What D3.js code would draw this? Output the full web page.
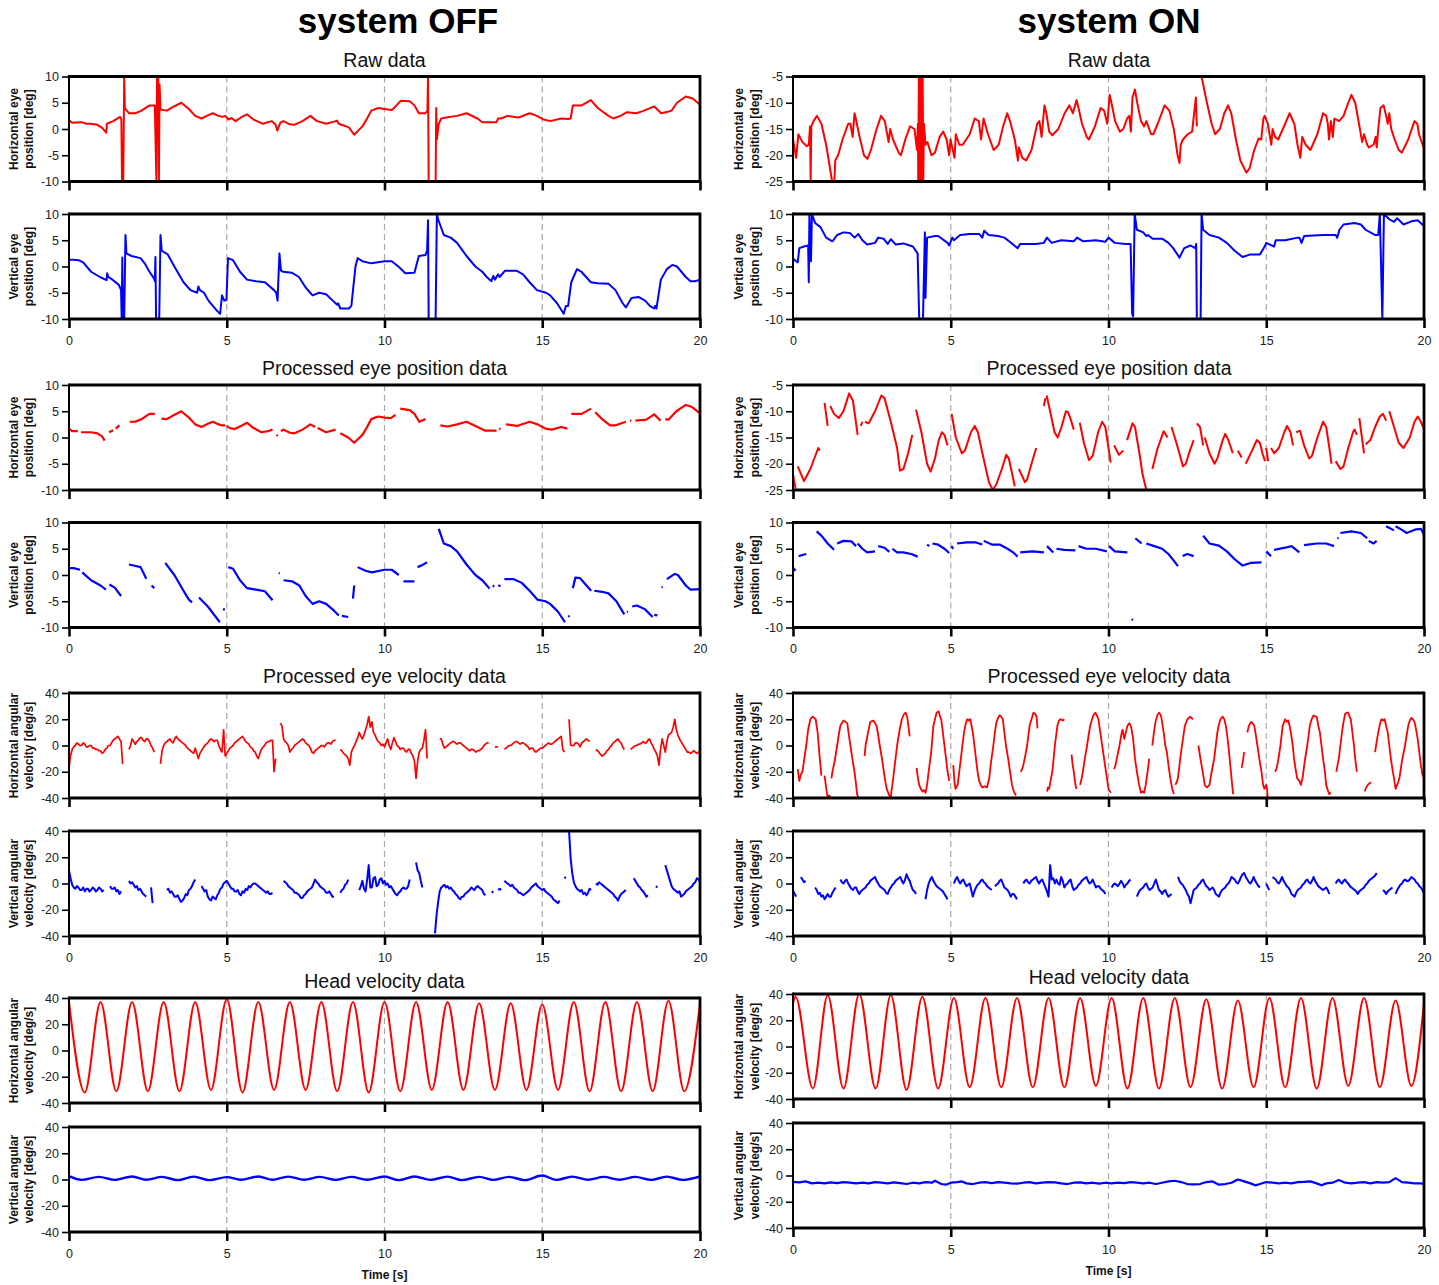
<!DOCTYPE html>
<html><head><meta charset="utf-8">
<script src="https://cdn.jsdelivr.net/npm/d3@7/dist/d3.min.js"></script>
<style>
html,body{margin:0;padding:0;background:#fff;}
svg{display:block;font-family:"Liberation Sans",Arial,sans-serif;}
</style></head>
<body>
<svg id="chart" width="1439" height="1285"></svg>
<script>
// ---------------- DATA ----------------
const columnTitles = ["system OFF", "system ON"];
const sectionTitles = ["Raw data", "Processed eye position data", "Processed eye velocity data", "Head velocity data"];
const timeTicks = [0, 5, 10, 15, 20];
const gridTimes = [5, 10, 15];
const posTicks = [-10, -5, 0, 5, 10];
const onPosHTicks = [-25, -20, -15, -10, -5];
const velTicks = [-40, -20, 0, 20, 40];
const velStep = 0.05; // sampling step (s) of the uniformly sampled velocity series

// system OFF – raw eye position
const offRawH = [[0,1.7],[0.1,1.2],[0.4,1.3],[0.55,1.0],[0.7,1.0],[0.9,0.8],[1.05,0.2],[1.18,-0.7],[1.2,1.0],[1.4,1.5],[1.62,2.3],[1.66,1.8],[1.68,-10],[1.72,-10],[1.75,10],[1.77,4],[1.8,3.8],[1.9,3],[2.1,3],[2.3,3.5],[2.55,4.5],[2.72,4.5],[2.77,-10],[2.79,10],[2.81,4],[2.83,10],[2.85,-10],[2.87,8.5],[2.9,3.7],[3.1,3.5],[3.3,4.2],[3.56,5],[3.8,3.8],[4.0,2.5],[4.2,2],[4.4,2.6],[4.56,3],[4.7,2.6],[4.85,2.3],[4.95,2.5],[5.06,1.8],[5.15,2.1],[5.28,1.5],[5.45,2.2],[5.64,2.8],[5.85,1.8],[6.14,1],[6.43,1.5],[6.55,0.8],[6.6,-0.3],[6.7,1.2],[6.8,1.5],[7.0,0.9],[7.14,0.8],[7.4,1.5],[7.65,2.5],[7.86,1.5],[8.15,1],[8.4,1.4],[8.5,1.6],[8.55,1.0],[8.87,0.3],[9.04,-1.1],[9.3,0.5],[9.45,2],[9.58,3.5],[9.8,4],[10.0,3.8],[10.23,3.6],[10.35,4.3],[10.52,5.4],[10.8,5.3],[10.95,4.5],[11.09,3.0],[11.3,3],[11.36,3.5],[11.38,10],[11.4,-10],[11.62,-10],[11.64,4],[11.66,-2],[11.72,1],[11.8,2],[11.95,2.2],[12.3,2.5],[12.6,3],[12.95,2],[13.1,1.3],[13.55,1.3],[13.6,2],[13.69,2],[13.9,2.5],[14.25,2.2],[14.6,3],[14.83,2.5],[15.05,1.8],[15.25,1.5],[15.6,2],[15.82,1.9],[15.9,2],[15.97,4.5],[16.25,4.5],[16.54,5.5],[16.76,4],[17.1,2.5],[17.25,2.0],[17.48,2.5],[17.69,3.2],[17.98,3.0],[18.19,3.4],[18.55,4.3],[18.77,3],[18.98,3.3],[19.1,3.5],[19.27,5],[19.55,6.2],[19.77,5.8],[20,4.6]];
const offRawV = [[0,1.3],[0.15,1.3],[0.3,1.2],[0.45,0.8],[0.7,-1],[0.98,-2],[1.19,-2.6],[1.21,-1.3],[1.25,-2],[1.33,-2.3],[1.58,-3.5],[1.65,-4.5],[1.67,-10],[1.69,1.7],[1.71,-10],[1.75,-10],[1.79,6],[1.82,2.5],[1.98,2],[2.27,1.6],[2.41,0.5],[2.55,-1],[2.7,-2.3],[2.72,-2.8],[2.74,1.8],[2.76,-10],[2.86,-10],[2.9,6],[2.94,3],[3.13,2.3],[3.34,0],[3.63,-3],[3.85,-4.5],[4.06,-5],[4.1,-3.8],[4.15,-4.5],[4.28,-5],[4.42,-6.5],[4.7,-8.5],[4.79,-9],[4.85,-5.5],[4.92,-6.5],[4.99,-6.4],[5.04,1.6],[5.2,1.2],[5.42,-1],[5.64,-2.5],[5.93,-2.8],[6.21,-3],[6.5,-4.5],[6.57,-5],[6.61,-6.5],[6.67,2.5],[6.72,-0.8],[6.79,-1],[7.07,-1.2],[7.29,-2],[7.5,-4],[7.72,-5.5],[7.93,-5],[8.15,-5.3],[8.36,-6.5],[8.5,-7.3],[8.53,-7],[8.6,-8],[8.87,-8],[8.95,-7.5],[9.08,0],[9.15,1.6],[9.3,1],[9.58,0.6],[10.0,1],[10.23,1],[10.44,0],[10.66,-1.3],[10.95,-1.2],[11.0,0],[11.09,2],[11.3,2.2],[11.35,3],[11.38,8.8],[11.4,-10],[11.62,-10],[11.66,10],[11.7,9],[11.88,6],[12.1,5.5],[12.3,4.5],[12.6,2],[12.88,0],[13.1,-1],[13.24,-2],[13.39,-2.8],[13.45,-1.8],[13.5,-2.5],[13.6,-1.5],[13.65,-2],[13.82,-0.8],[14.18,-0.8],[14.39,-1.5],[14.6,-3],[14.83,-4.5],[15.12,-5],[15.25,-5.5],[15.47,-7],[15.68,-9],[15.75,-7.5],[15.82,-7.5],[15.92,-3],[16.1,-0.5],[16.24,-1],[16.54,-3],[16.76,-3.2],[17.1,-3.3],[17.32,-4.5],[17.55,-7],[17.65,-7.8],[17.83,-6],[18.05,-5.8],[18.26,-6.5],[18.41,-7.5],[18.55,-8],[18.58,-7.5],[18.62,-8],[18.76,-2.5],[18.95,-0.5],[19.12,0.3],[19.27,0],[19.55,-2],[19.7,-2.8],[19.85,-2.8],[20,-2.5]];

// system ON – raw eye position
const onRawH = [[0,-17],[0.1,-20.5],[0.17,-16],[0.3,-17.5],[0.44,-18.3],[0.5,-18],[0.54,-14.5],[0.56,-25],[0.58,-14.5],[0.65,-13.5],[0.76,-12.5],[0.9,-14],[1.05,-18],[1.16,-22],[1.24,-25],[1.31,-25],[1.34,-21],[1.43,-20],[1.57,-17],[1.75,-14],[1.82,-14],[1.89,-16.5],[1.95,-12],[1.99,-13],[2.11,-16.5],[2.25,-20],[2.36,-20.7],[2.47,-19],[2.65,-15],[2.79,-12.5],[2.91,-13.5],[3.03,-17.5],[3.08,-15],[3.17,-17],[3.35,-19.5],[3.42,-20],[3.56,-17],[3.71,-14.5],[3.85,-15],[3.93,-19],[3.96,-14],[3.97,-25],[3.99,-5],[4.01,-25],[4.03,-5],[4.05,-25],[4.07,-5],[4.09,-25],[4.11,-5],[4.13,-25],[4.15,-14],[4.2,-18],[4.26,-17.5],[4.39,-20],[4.5,-19.5],[4.65,-16.5],[4.76,-15.5],[4.87,-17],[4.95,-20],[4.99,-17],[5.12,-20.5],[5.16,-16],[5.27,-18],[5.38,-18],[5.6,-16],[5.76,-13],[5.89,-13.5],[5.96,-17],[6.04,-13],[6.18,-16],[6.36,-19],[6.52,-18],[6.66,-14.5],[6.79,-12],[6.88,-13.5],[7.03,-17],[7.13,-21],[7.16,-18.5],[7.27,-20.5],[7.39,-21],[7.56,-19],[7.74,-14],[7.81,-13.5],[7.88,-16.5],[7.97,-10.5],[8.03,-12],[8.12,-15.5],[8.22,-16.2],[8.41,-15],[8.61,-12],[8.76,-10.5],[8.87,-12],[8.99,-9.5],[9.05,-11],[9.16,-14],[9.31,-16.5],[9.38,-17],[9.57,-14.5],[9.75,-11],[9.86,-11.5],[9.96,-14],[10.04,-8.5],[10.11,-10.5],[10.21,-13.5],[10.36,-15.5],[10.47,-15],[10.59,-13],[10.66,-12.5],[10.71,-15.5],[10.76,-9],[10.84,-7.5],[10.91,-10],[11.03,-13.5],[11.13,-14.5],[11.2,-13.5],[11.35,-16],[11.42,-16],[11.56,-14],[11.78,-10.5],[11.93,-11.5],[12.07,-15],[12.19,-20],[12.25,-21.5],[12.29,-18],[12.36,-17],[12.51,-16],[12.65,-15.5],[12.77,-9],[12.8,-14.5],null,[12.95,-5],[13.12,-10],[13.27,-14],[13.38,-16],[13.53,-15],[13.67,-12],[13.79,-10.5],[13.89,-12],[14.04,-17],[14.18,-21],[14.37,-23.3],[14.47,-22.5],[14.62,-19],[14.76,-16.8],[14.84,-17],[14.91,-13],[14.95,-12.5],[15.05,-14],[15.16,-18],[15.2,-15],[15.28,-16.5],[15.38,-17],[15.6,-14],[15.74,-12],[15.89,-14],[15.99,-18],[16.08,-20.5],[16.14,-16.5],[16.25,-18],[16.4,-19],[16.62,-16],[16.8,-12],[16.9,-12.5],[16.95,-14],[16.99,-17],[17.05,-13.5],[17.11,-16.5],[17.16,-13],[17.31,-13.5],[17.45,-12.5],[17.6,-10],[17.7,-8.5],[17.82,-10],[17.94,-14],[18.04,-17.5],[18.1,-16],[18.2,-18],[18.25,-18.5],[18.4,-18],[18.47,-16.5],[18.5,-18.5],[18.55,-15],[18.62,-11],[18.72,-10.5],[18.8,-12.5],[18.85,-14],[18.9,-12],[18.96,-15],[19.07,-17],[19.2,-19],[19.3,-19.5],[19.5,-17],[19.64,-14.5],[19.7,-13.5],[19.79,-14],[19.84,-16],[20,-18.7]];
const onRawV = [[0,1.5],[0.1,1],[0.15,0.8],[0.2,3.5],[0.35,3.8],[0.48,4],[0.5,-3],[0.52,10],[0.57,1],[0.6,10],[0.7,8.3],[0.87,7.5],[1.05,5.5],[1.25,4.8],[1.4,6],[1.6,6.5],[1.8,6.4],[1.95,5.5],[2.07,6.2],[2.2,5],[2.35,4.2],[2.6,4.5],[2.7,5.5],[2.87,5.3],[3.0,4.3],[3.1,5.2],[3.25,4.2],[3.5,4.4],[3.7,4],[3.8,3.8],[3.95,2.5],[4.0,-10],[4.12,-10],[4.18,6.5],[4.2,-6],[4.25,5.5],[4.5,5.8],[4.6,5.8],[4.9,4.5],[4.95,4],[5.05,5.5],[5.1,5],[5.3,6],[5.6,6.2],[5.9,6.2],[6.0,5.5],[6.06,6.8],[6.2,6],[6.5,5.8],[6.7,5.5],[6.85,4.8],[7.12,3.5],[7.2,4.3],[7.7,4.3],[7.95,4.5],[8.05,5.5],[8.2,4.5],[8.5,5],[8.9,4.8],[9.0,5.5],[9.2,4.8],[9.6,5],[9.9,4.7],[10.0,5.5],[10.2,4.5],[10.55,4.3],[10.7,4.3],[10.75,-9],[10.78,-9.5],[10.83,10],[10.9,7],[11.1,6.5],[11.2,5.8],[11.25,6],[11.4,5.3],[11.7,5.3],[11.9,4.5],[12.05,3.5],[12.25,1.7],[12.4,3.5],[12.6,4],[12.75,3.5],[12.78,4.3],[12.8,-10],[12.92,-10],[12.95,10],[13.0,7],[13.2,6],[13.5,5.5],[13.75,4.5],[14.0,3],[14.25,1.8],[14.5,2.3],[14.8,2.3],[14.95,3.8],[15.0,4.5],[15.25,3.8],[15.3,5],[15.6,5],[16.0,5.5],[16.05,5.5],[16.12,4.5],[16.2,5.8],[16.8,6],[17.2,6],[17.25,5.5],[17.32,7],[17.45,8],[17.8,8.3],[18.0,8],[18.15,7],[18.3,6.5],[18.45,6],[18.55,6],[18.6,10],[18.68,-10],[18.73,10],[18.9,9],[19.05,8.5],[19.15,9.2],[19.35,8],[19.6,8.6],[19.8,8.8],[20,7.7]];

// system OFF – processed eye position (null = removed samples)
const offProcH = [[0,1.7],[0.1,1.2],[0.28,1.2],null,[0.38,1.0],[0.55,1.0],[0.7,1.0],[0.9,0.8],[1.05,0.2],[1.13,-0.6],null,[1.27,1.0],[1.4,1.4],null,[1.48,1.7],[1.6,2.3],null,[1.93,3],[2.1,3],[2.3,3.5],[2.55,4.5],[2.72,4.5],null,[2.93,3.6],[3.1,3.5],[3.3,4.2],[3.56,5],[3.8,3.8],[4.0,2.5],[4.2,2],[4.4,2.6],[4.56,3],[4.7,2.6],[4.85,2.3],[4.95,2.3],null,[5.0,2.2],[5.1,1.8],[5.25,1.6],[5.45,2.2],[5.65,2.8],[5.85,1.8],[6.1,1],[6.3,1.2],[6.45,1.5],null,[6.58,0.5],[6.62,0.3],null,[6.72,1.2],[6.8,1.5],[7.0,0.9],[7.15,0.8],[7.4,1.5],[7.65,2.5],[7.8,2],null,[7.88,1.8],[8.15,1],[8.45,1.5],null,[8.6,0.8],[8.85,0],[9.04,-1],[9.3,0.5],[9.45,2],[9.58,3.5],[9.8,4],[10.0,3.8],[10.2,3.7],[10.35,4.3],null,[10.5,5.5],[10.8,5.2],[10.95,4.5],[11.1,3],[11.3,3.5],null,[11.77,2.3],[12.0,2.1],[12.3,2.5],[12.6,3],[12.95,2],[13.2,1.3],[13.55,1.3],null,[13.63,1.6],[13.68,1.7],null,[13.85,2.5],[14.2,2.2],[14.6,3],[14.85,2.5],[15.1,1.7],[15.3,1.5],[15.6,2],[15.8,1.7],null,[15.92,4.5],[16.25,4.5],[16.55,5.5],null,[16.68,4.8],[16.9,3.5],[17.15,2.3],[17.3,2.3],[17.65,3],null,[17.78,3.2],[17.82,3.2],null,[17.95,3.2],[18.3,3.4],[18.55,4.4],[18.75,3.2],null,[18.9,3.5],[19.0,3.4],[19.25,5],[19.55,6.2],[19.75,5.8],[20,4.6]];
const offProcV = [[0,1.3],[0.15,1.3],[0.35,1.0],null,[0.42,0.5],[0.7,-1],[1.0,-2],[1.17,-2.8],null,[1.28,-1.8],[1.45,-2.4],[1.65,-4],null,[1.9,2],[2.05,1.8],[2.27,1.5],[2.45,-0.7],null,[2.62,-2],[2.7,-2.5],null,[3.05,2.3],[3.34,0],[3.63,-3],[3.8,-4.7],[3.9,-5.2],null,[4.12,-4.3],[4.4,-6],[4.78,-9],null,[4.88,-6.5],[4.94,-6.6],null,[5.05,1.5],[5.2,1.2],[5.42,-1],[5.64,-2.5],[5.93,-2.8],[6.21,-3.1],[6.45,-4.8],null,[6.65,0.4],[6.68,0.3],null,[6.8,-1],[7.07,-1.2],[7.3,-2],[7.5,-4],[7.72,-5.5],[7.93,-5],[8.15,-5.5],[8.4,-6.8],[8.55,-7.7],null,[8.65,-7.8],[8.85,-8],null,[9.0,-4.5],[9.04,-2],null,[9.15,1.5],[9.4,0.8],[9.6,0.5],[10.0,1],[10.23,1],[10.45,0],null,[10.6,-1.2],[10.95,-1.2],null,[11.05,1.5],[11.2,1.9],[11.35,2.4],null,[11.72,8.8],[11.88,6],[12.1,5.5],[12.3,4.5],[12.6,2],[12.88,0],[13.1,-1],[13.33,-2.6],null,[13.43,-2],[13.48,-2.2],null,[13.6,-2],[13.68,-2.1],null,[13.8,-0.8],[14.1,-0.8],[14.35,-1.5],[14.6,-3],[14.85,-4.7],[15.1,-5],[15.25,-5.5],[15.5,-7],[15.72,-9],null,[15.82,-7.8],[15.87,-7.9],null,[15.97,-2.5],[16.05,-0.5],[16.2,-0.6],[16.55,-3],null,[16.65,-3],[16.9,-3.2],[17.1,-3.5],[17.35,-5],[17.6,-7.5],null,[17.68,-7],[17.72,-7],null,[17.85,-6],[18.0,-5.8],[18.25,-6.5],[18.5,-8],null,[18.55,-7.6],[18.65,-7.7],null,[18.78,-2.3],[18.82,-2.3],null,[18.95,-0.8],[19.2,0.2],[19.3,0],[19.55,-2],[19.7,-2.8],[20,-2.7]];

// system ON – processed eye position
const onProcH = [[0,-22],[0.08,-24.7],null,[0.15,-20.5],[0.35,-23.3],[0.55,-21],[0.8,-17],[0.85,-17.5],null,[1.0,-8.4],[1.1,-12.8],null,[1.18,-9],[1.3,-10.5],[1.45,-11.3],[1.6,-10],[1.78,-6.6],[1.9,-8],[2.05,-14.5],null,[2.15,-12.8],[2.2,-12],null,[2.28,-12],[2.4,-12.3],[2.6,-10],[2.8,-7],[2.9,-7.5],[3.1,-12],[3.3,-17],[3.39,-21.3],[3.5,-21],[3.65,-18],[3.78,-14.5],null,[3.9,-9.7],[4.07,-14],[4.25,-20],[4.36,-21.5],[4.5,-19],[4.62,-15.5],[4.72,-14],[4.8,-14.5],[4.9,-16.5],null,[5.03,-10.5],[5.16,-15],[5.35,-18],[5.45,-17.5],[5.64,-14],[5.76,-12.8],[5.86,-14],[6.04,-19],[6.21,-23.5],[6.33,-25],[6.44,-24],[6.62,-21],[6.76,-18.3],[6.84,-19],[6.95,-22],[7.03,-24.3],null,[7.16,-21],[7.35,-23.5],[7.42,-23],[7.56,-20],[7.71,-17],null,[7.95,-9],[8.0,-7.5],null,[8.04,-7],[8.15,-10],[8.29,-14],[8.39,-15],[8.51,-13],[8.65,-10],[8.72,-10.2],[8.8,-11.5],[8.9,-13.5],null,[9.09,-12.2],[9.22,-16],[9.38,-19.3],[9.5,-18.5],[9.67,-14],[9.8,-12],[9.9,-13],[10.0,-17],[10.07,-19.8],null,[10.18,-16.5],[10.33,-18.3],[10.47,-17.5],null,[10.59,-15.5],[10.76,-12.3],[10.84,-13],[10.98,-18],[11.08,-22],[11.2,-25],null,[11.39,-21],[11.56,-17],[11.75,-13.8],[11.87,-15],null,[12.0,-13],[12.2,-17],[12.36,-20.5],[12.45,-20],[12.58,-17.5],[12.7,-15.5],null,[12.8,-12.3],[12.9,-13],[13.0,-16.5],null,[13.05,-15],[13.2,-18],[13.36,-20],[13.45,-19],[13.62,-15.5],[13.7,-14.3],[13.8,-15.5],[13.94,-18],null,[14.1,-17.5],[14.22,-18.8],null,[14.35,-20],[14.55,-17.5],[14.7,-15.5],[14.8,-16],[14.88,-18],[14.96,-19.5],null,[15.0,-17],[15.06,-19.5],null,[15.15,-17],[15.25,-18],[15.4,-17],[15.57,-14],[15.66,-12.8],[15.77,-14],[15.85,-16.5],null,[15.95,-14],[16.07,-13.7],[16.2,-16.5],[16.36,-19],[16.45,-18.5],[16.62,-15],[16.8,-12],[16.9,-13],[17.0,-17],[17.07,-20],null,[17.2,-19.5],[17.35,-21],[17.45,-20.5],[17.6,-17],[17.75,-14],[17.8,-13.5],[17.87,-14.5],null,[17.95,-11.3],[18.1,-18],null,[18.15,-16.3],[18.3,-15.5],[18.45,-13],[18.6,-11],[18.7,-10.5],[18.8,-11.8],null,[18.9,-10],[19.05,-13],[19.2,-16],[19.35,-17],[19.55,-15],[19.7,-12],[19.8,-11],[19.9,-12],[20,-13.4]];
const onProcV = [[0,1.4],[0.08,0.8],null,[0.18,3.6],[0.3,3.8],[0.42,4],null,[0.75,8.3],[0.9,7.5],[1.1,6],[1.3,4.8],null,[1.4,6],[1.6,6.5],[1.85,6.4],[2.0,5.5],null,[2.05,6],[2.2,5],[2.35,4.3],[2.6,4.5],null,[2.7,5.5],[2.9,5.2],[3.05,4.4],null,[3.15,5],[3.3,4.3],[3.5,4.3],[3.75,4],[3.95,3.5],null,[4.25,5.8],[4.32,5.5],null,[4.42,6],[4.6,5.8],[4.8,5],[4.95,4.2],null,[5.02,5.5],[5.08,5],null,[5.2,6],[5.5,6.2],[5.8,6.2],[6.0,5.8],null,[6.05,6.5],[6.3,5.8],[6.55,5.8],[6.8,5],[7.0,4.2],[7.12,3.5],null,[7.2,4.3],[7.6,4.5],[7.95,4.3],null,[8.05,5.5],[8.25,4.3],null,[8.35,5],[8.6,4.8],[8.95,4.7],null,[9.05,5.5],[9.3,5],[9.6,5],[9.95,4.5],null,[10.02,5.5],[10.2,4.5],[10.6,4.3],null,[10.74,-8.4],[10.77,-8.6],null,[10.85,7],[11.05,6],null,[11.2,6],[11.45,5.5],[11.7,5],[11.9,4],[12.1,2.5],[12.2,1.7],null,[12.35,3.6],[12.5,4],[12.7,3.6],null,[13.0,7.5],[13.2,6],[13.5,5.6],[13.75,4.5],[14.0,3],[14.25,1.8],[14.5,2.3],[14.85,2.4],null,[15.0,4.5],[15.15,3.6],null,[15.25,4.8],[15.6,5.2],[15.8,5.5],[16.05,4.3],null,[16.2,5.7],[16.6,6],[16.9,6],[17.15,5.5],null,[17.25,7],[17.3,7],null,[17.35,8],[17.7,8.3],[18.0,8],[18.2,7],null,[18.25,6.5],[18.4,6],[18.5,6.5],null,[18.8,9.3],[19.05,8.5],null,[19.1,9.3],[19.3,8.6],[19.45,8],[19.75,8.7],[19.9,8.8],[20,7.7]];

// velocity series sampled every velStep seconds (one row = 1 s, null = removed samples)
const offVelH = [
-17,-8,-3,-1,0,2,1,0,0,2,1,-1,-1,0,0,-2,-2,-3,-3,-4,
-4,-6,-5,-3,-2,0,0,2,4,5,6,7,5,3,-14,null,null,null,-3,0,
5,3,1,3,4,6,6,4,3,5,5,3,0,-2,-5,null,null,null,-14,-4,
0,2,3,4,5,3,2,5,7,5,4,3,2,1,0,-2,-3,-4,-5,-6,
-2,-6,-10,-6,-4,-2,0,1,2,4,5,4,3,4,4,0,-3,-5,12,-8,
-6,-4,-2,-1,0,2,3,4,5,6,7,5,3,2,1,-1,-2,-4,-5,-8,
-10,-6,-3,-1,0,2,3,3,4,4,-20,-10,null,null,17,15,5,3,2,0,
-5,-3,-2,0,1,2,3,4,5,4,2,1,0,-2,-5,-6,-4,-3,-2,-1,
0,0,-1,1,2,2,1,3,4,4,null,null,-3,-4,-6,-7,-8,-10,-15,-5,
-2,0,3,6,10,7,5,8,12,16,22,14,18,10,8,5,3,2,0,1,
-1,2,5,0,-3,2,6,3,0,-1,-3,-2,-2,-4,-5,-3,-3,-6,-8,-12,
-25,-12,-5,-3,-2,4,12,-10,null,null,null,null,null,null,null,5,5,1,-2,-1,
0,1,2,3,3,2,1,2,2,1,0,-1,-2,-3,-4,-3,-3,-4,-5,-4,
-4,-3,-2,0,1,2,2,null,null,null,-1,-1,-1,null,null,null,-3,-2,-1,0,
0,1,2,3,3,2,1,2,2,1,0,-1,-3,-2,-2,-4,-5,-4,-3,-2,
-2,-1,0,1,2,1,1,2,3,4,5,6,7,-3,-5,null,null,20,0,0,
0,2,2,1,-1,2,3,4,5,4,3,null,null,null,-3,-4,-5,-7,-8,-7,
-6,-4,-3,-1,0,2,3,4,5,3,2,-1,-3,null,null,null,-3,-2,-1,0,
0,1,1,2,3,2,2,4,5,2,0,-3,-5,-8,-15,-3,5,0,-5,3,
8,9,10,14,20,12,8,5,3,1,-1,-3,-5,-5,-6,-5,-4,-5,-6,-5,
-5];
const offVelV = [
10,4,-1,-3,-4,-2,-3,-5,-5,-3,-6,-4,-4,-6,-5,-3,-4,-6,-5,-3,
-4,-6,-5,null,null,null,-2,-4,-4,-3,-6,-5,-8,-6,null,null,null,null,2,0,
1,-1,-3,-2,-5,-4,-6,-8,-9,-10,null,null,-3,-15,null,null,null,null,null,null,
null,null,-5,-4,-7,-6,-8,-10,-10,-9,-12,-14,-13,-11,-8,-9,-5,-4,-2,1,
3,null,null,null,-2,-4,-6,-5,-10,-12,-13,-10,-11,-12,-9,-7,-4,-3,0,1,
2,0,-2,-4,-4,-6,-6,-5,-8,-9,-6,-7,-4,-5,-2,-3,-1,0,0,-1,
-2,-3,-4,-5,-6,-7,-6,-8,-8,-7,null,null,null,null,null,null,2,1,0,-2,
-3,-4,-5,-7,-7,-8,-9,-11,-11,-9,-8,-6,-5,-4,-3,0,3,1,0,-2,
-3,-4,-5,-7,-7,-6,-8,-10,-10,null,null,null,-7,-5,-4,-1,0,3,null,null,
null,null,null,null,-5,-2,2,-4,-6,3,14,-3,-3,4,5,-2,-1,3,4,0,
2,-1,0,-3,-2,-4,-6,-8,-9,-7,-6,-4,-3,-4,-4,-2,3,null,null,null,
16,10,8,2,-3,null,null,null,null,null,null,null,-38,-24,-14,-6,-3,-2,-1,-3,
-2,-4,-3,-5,-6,-8,-9,-11,-12,-10,-10,-8,-7,-6,-5,-3,-4,-5,-3,-2,
-3,-4,-5,-8,-9,null,null,null,-6,-7,null,null,-5,-4,-5,null,2,1,0,-1,
-2,-1,-3,-4,-5,-7,-7,-8,-9,-8,-7,-6,-5,-3,-2,-1,0,-2,-3,-4,
-5,-4,-6,-7,-8,-9,-10,-12,-13,-14,-15,-13,null,null,5,4,null,40,19,8,
1,-2,-4,-5,-6,-5,-8,-7,-9,-7,-4,-5,null,null,0,-1,1,0,-1,-2,
-3,-4,-5,-6,-7,-8,-10,-11,-13,-10,-8,-7,-6,-5,null,null,null,null,4,2,
0,-2,-3,-5,-6,-8,-10,-9,null,null,null,null,-2,-3,null,null,null,null,14,10,
6,2,-2,-4,-5,-6,-7,-6,-10,-9,-8,-6,-5,-4,-3,-2,0,1,4,3,
2];
const onVelV = [
-5,-8,-10,null,null,5,3,1,2,null,null,null,null,null,-3,-5,-8,-7,-10,-9,
-12,-10,-8,-10,-10,-7,-5,-3,null,null,3,1,0,2,3,0,-2,-4,-5,-3,
-3,-6,-8,-6,-5,-4,-3,-1,0,2,3,4,5,2,0,-2,-3,-4,-5,-7,
-8,-5,-3,-1,0,2,3,4,5,2,0,3,7,4,2,-2,-5,-6,-8,null,
null,null,null,null,-12,-5,0,3,5,2,0,-2,-3,-4,-5,-6,-8,-10,-12,null,
null,null,0,3,5,2,0,2,3,0,-2,-1,0,-5,-10,-6,-3,-1,0,2,
3,1,0,-2,-3,-4,-5,null,-2,-1,0,2,3,0,-3,-4,-5,-7,-10,-8,
-8,-10,-12,null,null,null,0,2,3,1,0,2,3,4,5,2,0,2,3,0,
-3,-6,-10,14,3,4,0,3,0,-1,5,2,-3,-1,0,2,3,-2,-5,-4,
-3,-1,0,2,3,4,5,2,0,1,3,0,-3,-2,-2,-4,-5,-6,-8,null,
null,null,-3,-1,0,-1,-2,0,2,0,-3,-1,0,2,3,null,null,null,-10,-7,
-5,-4,-3,-1,0,-3,-5,-4,-3,0,3,-1,-5,-6,-8,-6,-5,-8,-10,-9,
-8,null,null,null,5,2,0,-1,-3,-5,-8,-10,-15,-10,-5,-4,-3,-1,0,2,
3,0,-2,-3,-5,-4,-3,-5,-8,-9,-10,-7,-5,-4,-3,-1,0,2,5,4,
3,1,0,2,5,7,8,5,3,1,0,2,5,2,0,-2,-3,null,null,null,
0,-3,-5,null,5,4,3,1,0,2,5,2,0,-2,-3,-5,-8,-9,-10,-7,
-5,-4,-3,-1,0,2,3,1,0,2,5,2,0,-2,-3,-4,-5,-4,-3,-5,
-8,null,null,null,0,2,3,1,0,2,3,1,0,-2,-3,-4,-5,-6,-8,-6,
-5,-4,-3,-1,0,2,3,4,5,6,8,null,null,null,-5,-6,-8,-6,-5,-4,
-3,null,-8,-5,-3,-1,0,2,3,2,2,3,5,4,3,1,0,-2,-3,-5,
-8];

// system ON – horizontal eye velocity (t, deg/s)
const onVelH = [[0.15,-18],[0.2,-27],[0.25,-22],[0.3,-20],[0.36,-10],[0.42,0],[0.48,12],[0.55,20],[0.62,22],[0.67,21],[0.72,20],[0.78,10],[0.85,-10],[0.9,-23],null,[1.0,-23],[1.05,-32],[1.1,-40],[1.15,-38],[1.2,-40],null,[1.22,-25],[1.25,-20],[1.32,-12],[1.4,0],[1.45,8],[1.5,15],[1.6,19],[1.66,18],[1.72,17],[1.77,8],[1.82,0],[1.88,-10],[1.95,-20],[2.0,-30],[2.03,-37],[2.07,-40],null,[2.27,-8],[2.3,0],[2.38,10],[2.45,18],[2.55,19],[2.6,17],[2.65,15],[2.7,8],[2.75,0],[2.82,-10],[2.88,-20],[2.93,-28],[2.97,-33],[3.05,-38],[3.1,-40],[3.12,-35],[3.16,-28],[3.2,-20],[3.25,-10],[3.3,0],[3.38,12],[3.45,20],[3.52,24],[3.57,25],[3.62,22],[3.7,7],null,[3.92,-17],[3.96,-25],[4.0,-30],[4.05,-33],[4.1,-35],[4.15,-34],[4.2,-36],[4.25,-30],[4.3,-20],[4.38,-5],[4.45,15],[4.5,20],[4.55,25],[4.62,26],[4.66,22],[4.7,20],[4.75,10],[4.8,0],[4.86,-12],[4.9,-20],[4.95,-27],null,[5.08,-15],[5.12,-28],[5.15,-33],[5.22,-30],[5.27,-20],[5.32,-10],[5.37,0],[5.42,10],[5.48,17],[5.52,20],[5.57,19],[5.62,20],[5.66,15],[5.7,10],[5.75,0],[5.8,-10],[5.85,-20],[5.9,-27],[5.95,-30],[6.0,-32],[6.08,-31],[6.15,-32],[6.22,-25],[6.28,-12],[6.35,0],[6.4,10],[6.45,18],[6.5,21],[6.55,23],[6.6,22],[6.65,20],[6.7,10],[6.75,0],[6.82,-10],[6.88,-20],[6.94,-30],[7.0,-35],[7.04,-37],[7.07,-38],null,[7.22,-20],[7.26,-18],[7.3,-15],[7.36,-8],[7.42,0],[7.5,15],[7.56,20],[7.62,25],[7.68,24],[7.72,22],[7.75,13],null,[8.05,-35],[8.08,-32],[8.12,-33],[8.17,-26],[8.22,-20],[8.26,-10],[8.3,0],[8.38,15],[8.43,19],[8.48,20],[8.55,19],[8.6,20],null,[8.83,-7],[8.86,-14],[8.9,-20],[8.94,-28],[8.98,-33],null,[9.1,-30],[9.15,-25],[9.2,-18],[9.25,-10],[9.32,0],[9.37,8],[9.42,15],[9.48,20],[9.52,23],[9.58,25],[9.63,23],[9.68,20],[9.74,10],[9.8,0],[9.86,-10],[9.92,-20],[9.97,-28],[10.0,-33],[10.04,-35],[10.08,-36],null,[10.18,-18],[10.22,-15],[10.28,-8],[10.35,0],[10.42,10],[10.45,12],[10.5,5],[10.55,10],[10.6,15],[10.66,17],[10.72,14],[10.78,5],[10.84,-10],[10.9,-20],[10.97,-30],[11.03,-36],[11.08,-35],[11.13,-36],[11.18,-30],[11.24,-20],[11.29,-10],null,[11.39,0],[11.44,10],[11.49,18],[11.55,23],[11.6,25],[11.64,24],[11.67,22],[11.75,10],[11.8,0],[11.85,-5],[11.9,-15],[11.96,-25],[12.02,-33],[12.07,-37],null,[12.12,-30],[12.16,-28],[12.2,-25],[12.25,-15],[12.3,-5],[12.36,5],[12.42,15],[12.5,20],[12.55,21],[12.58,22],[12.63,21],[12.68,20],null,[12.85,0],[12.9,-8],[12.95,-15],[13.0,-22],[13.05,-30],[13.12,-32],[13.2,-30],[13.27,-20],[13.35,-10],[13.4,0],[13.45,10],[13.5,16],[13.55,20],[13.62,22],[13.67,20],[13.72,15],[13.76,8],[13.8,0],[13.84,-10],[13.88,-20],[13.92,-30],[13.95,-37],null,[14.22,-17],[14.26,-12],[14.3,-5],null,[14.4,10],[14.45,15],[14.52,18],[14.57,17],[14.62,15],[14.67,8],[14.72,0],[14.78,-10],[14.85,-20],[14.9,-30],[14.94,-33],[15.0,-30],[15.02,-32],[15.05,-40],null,[15.28,-20],[15.32,-18],[15.35,-15],[15.4,-8],[15.45,0],[15.52,15],[15.6,20],[15.65,18],[15.7,19],[15.74,15],[15.78,10],[15.84,0],[15.88,-10],[15.93,-18],[15.98,-25],[16.05,-27],[16.1,-30],[16.15,-25],[16.22,-12],[16.3,0],[16.38,15],[16.44,20],[16.5,23],[16.56,22],[16.6,22],[16.65,15],[16.7,10],[16.75,0],[16.8,-10],[16.86,-20],[16.9,-30],[16.95,-34],[17.0,-37],[17.05,-36],null,[17.22,-20],[17.26,-15],[17.3,-10],[17.35,0],[17.4,10],[17.45,18],[17.5,24],[17.55,25],[17.6,25],[17.64,22],[17.68,20],[17.73,10],[17.78,0],[17.82,-10],[17.87,-20],null,[18.12,-35],[18.17,-32],[18.22,-30],[18.27,-29],[18.32,-28],null,[18.45,-5],[18.5,3],[18.55,10],[18.6,16],[18.65,20],[18.7,19],[18.75,20],[18.8,15],[18.85,10],[18.9,0],[18.95,-10],[19.0,-18],[19.05,-25],[19.1,-33],[19.15,-30],[19.18,-28],[19.22,-25],[19.3,-12],[19.4,0],[19.45,8],[19.5,15],[19.55,19],[19.6,21],[19.65,20],[19.7,18],[19.75,12],[19.8,5],[19.85,-5],[19.9,-15],[19.95,-22],[20,-25]];

// head velocity: peaks/troughs (t, deg/s)
const offHeadH = [[0,37],[0.5,-32],[1,37],[1.5,-31],[2,37],[2.5,-31],[3,37],[3.5,-31],[4,37],[4.5,-30],[5,39],[5.5,-32],[6,37],[6.5,-30],[7,37],[7.5,-30],[8,37],[8.5,-31],[9,37],[9.5,-32],[10,37],[10.5,-31],[11,37],[11.5,-30],[12,37],[12.5,-30],[13,36],[13.5,-30],[14,36],[14.5,-30],[15,35],[15.5,-30],[16,37],[16.5,-31],[17,37],[17.5,-31],[18,37],[18.5,-31],[19,38],[19.5,-31],[20,36]];
const offHeadV = [[0,2.5],[0.4,-0.3],[0.95,2],[1.45,-0.3],[2.0,2.3],[2.45,-0.2],[2.95,2],[3.45,-0.5],[3.95,2.2],[4.45,-0.5],[5.0,1.8],[5.45,-0.2],[6.0,2.3],[6.45,-0.2],[6.95,2.2],[7.45,-0.2],[7.95,2],[8.45,-0.3],[8.95,2],[9.45,-0.2],[10.0,2.3],[10.45,-0.5],[10.95,2.3],[11.45,-0.3],[12.0,2.2],[12.45,-0.5],[13.0,2],[13.45,-0.3],[13.95,2],[14.45,-0.5],[15.0,3],[15.45,-0.3],[15.95,2.2],[16.45,-0.2],[16.95,2],[17.45,-0.2],[17.95,2],[18.45,-0.3],[18.95,2.2],[19.45,-0.3],[20,2.3]];
const onHeadH = [[0,33],[0.08,38],[0.63,-32],[1.1,39],[1.6,-32],[2.1,40],[2.62,-32],[3.1,39],[3.6,-33],[4.1,38],[4.6,-32],[5.1,37],[5.6,-31],[6.1,37],[6.6,-31],[7.1,37],[7.6,-31],[8.1,37],[8.6,-31],[9.1,37],[9.6,-30],[10.1,37],[10.6,-32],[11.1,37],[11.6,-32],[12.1,37],[12.6,-31],[13.1,36],[13.6,-32],[14.1,35],[14.6,-31],[15.1,37],[15.6,-31],[16.1,37],[16.6,-32],[17.1,37],[17.6,-30],[18.1,37],[18.6,-31],[19.1,35],[19.6,-30],[20,33]];
const onHeadV = [[0,-4.8],[0.2,-5.2],[0.4,-4.5],[0.6,-6],[0.8,-5.5],[1.0,-6],[1.2,-5.2],[1.4,-5.8],[1.6,-5],[1.8,-5.5],[2.0,-6],[2.2,-5.5],[2.4,-6],[2.6,-5],[2.8,-5.5],[3.0,-6],[3.2,-5.2],[3.4,-5.8],[3.6,-6.5],[3.8,-5.5],[4.0,-6],[4.2,-5],[4.4,-5.5],[4.5,-4],[4.7,-6.5],[4.85,-7],[5.0,-5.5],[5.2,-5],[5.35,-4.5],[5.5,-6],[5.7,-6.5],[5.9,-5.5],[6.1,-5],[6.3,-5.8],[6.5,-5],[6.7,-5.5],[6.9,-6],[7.1,-6.2],[7.3,-5.5],[7.5,-5],[7.7,-6],[7.9,-5.5],[8.1,-5],[8.3,-5.2],[8.5,-6],[8.7,-6.5],[8.9,-5.5],[9.1,-5.2],[9.3,-6],[9.5,-5.5],[9.7,-6.2],[9.9,-5.5],[10.1,-6],[10.3,-5.5],[10.5,-5.8],[10.7,-5],[10.9,-5.5],[11.1,-6],[11.3,-5.5],[11.5,-6.5],[11.7,-5.5],[11.9,-4.5],[12.1,-4],[12.3,-5],[12.5,-6.5],[12.7,-6.8],[12.9,-6.5],[13.1,-5],[13.3,-4.5],[13.5,-7],[13.7,-6.5],[13.9,-5.5],[14.1,-3],[14.3,-4.5],[14.5,-6],[14.65,-7.5],[14.8,-6.5],[15.0,-5],[15.2,-5.5],[15.4,-6],[15.6,-5.5],[15.8,-6],[16.0,-5],[16.2,-4.8],[16.4,-4.5],[16.6,-6],[16.75,-7.5],[16.9,-6],[17.1,-5.5],[17.3,-3.5],[17.5,-5.5],[17.7,-6],[17.9,-5.5],[18.1,-5],[18.3,-6],[18.5,-5],[18.7,-5.5],[18.9,-5],[19.1,-2],[19.3,-5],[19.5,-5.5],[19.7,-6],[19.9,-6],[20,-6.5]];

// ---------------- LAYOUT ----------------
const RED = "#ff0000", BLUE = "#0000ff";
const colX = [[69, 700], [793, 1424]];
const rowTops = [[76.5, 214, 385, 522.5, 693, 831, 998, 1127], [76.5, 214, 385, 522.5, 693, 831, 994, 1123]];
const panelH = 105;
const ylabX = [[14, 29], [739, 755]];
const sectionY = [[67, 375, 683, 988], [67, 375, 683, 984]];
const fromGrid = vals => vals.map((v, i) => v === null ? null : [i * velStep, v]);

const labPos = ["Horizontal eye", "position [deg]"], labPosV = ["Vertical eye", "position [deg]"];
const labVelH = ["Horizontal angular", "velocity [deg/s]"], labVelV = ["Vertical angular", "velocity [deg/s]"];

const panels = [
  {c:0, r:0, d:offRawH, col:RED, dom:[-10,10], t:posTicks, lab:labPos},
  {c:0, r:1, d:offRawV, col:BLUE, dom:[-10,10], t:posTicks, lab:labPosV, xl:true},
  {c:0, r:2, d:offProcH, col:RED, dom:[-10,10], t:posTicks, lab:labPos, w:2.2},
  {c:0, r:3, d:offProcV, col:BLUE, dom:[-10,10], t:posTicks, lab:labPosV, xl:true, w:2.2},
  {c:0, r:4, d:fromGrid(offVelH), col:RED, dom:[-40,40], t:velTicks, lab:labVelH, w:1.7},
  {c:0, r:5, d:fromGrid(offVelV), col:BLUE, dom:[-40,40], t:velTicks, lab:labVelV, xl:true, w:2},
  {c:0, r:6, d:offHeadH, col:RED, dom:[-40,40], t:velTicks, lab:labVelH, smooth:true},
  {c:0, r:7, d:offHeadV, col:BLUE, dom:[-40,40], t:velTicks, lab:labVelV, xl:true, smooth:true, time:true, w:2.4},
  {c:1, r:0, d:onRawH, col:RED, dom:[-25,-5], t:onPosHTicks, lab:labPos},
  {c:1, r:1, d:onRawV, col:BLUE, dom:[-10,10], t:posTicks, lab:labPosV, xl:true},
  {c:1, r:2, d:onProcH, col:RED, dom:[-25,-5], t:onPosHTicks, lab:labPos},
  {c:1, r:3, d:onProcV, col:BLUE, dom:[-10,10], t:posTicks, lab:labPosV, xl:true, w:2.2},
  {c:1, r:4, d:onVelH, col:RED, dom:[-40,40], t:velTicks, lab:labVelH, w:1.8},
  {c:1, r:5, d:fromGrid(onVelV), col:BLUE, dom:[-40,40], t:velTicks, lab:labVelV, xl:true, w:2},
  {c:1, r:6, d:onHeadH, col:RED, dom:[-40,40], t:velTicks, lab:labVelH, smooth:true},
  {c:1, r:7, d:onHeadV, col:BLUE, dom:[-40,40], t:velTicks, lab:labVelV, xl:true, time:true, w:2.2},
];

const svg = d3.select("#chart");
svg.append("rect").attr("width", 1439).attr("height", 1285).attr("fill", "#fff");
const defs = svg.append("defs");

columnTitles.forEach((t, c) => {
  svg.append("text").attr("x", c === 0 ? 398 : 1109).attr("y", 33)
    .attr("text-anchor", "middle").attr("font-size", 35).attr("font-weight", "bold")
    .attr("fill", "#000").text(t);
  sectionTitles.forEach((s, k) => {
    svg.append("text").attr("x", c === 0 ? 384.5 : 1109).attr("y", sectionY[c][k])
      .attr("text-anchor", "middle").attr("font-size", 19.5).attr("fill", "#111").text(s);
  });
});

panels.forEach((p, i) => {
  const [x0, x1] = colX[p.c];
  const top = rowTops[p.c][p.r], bot = top + panelH;
  const x = d3.scaleLinear().domain([0, 20]).range([x0, x1]);
  const y = d3.scaleLinear().domain(p.dom).range([bot, top]);
  const g = svg.append("g");

  g.selectAll("line.grid").data(gridTimes).join("line")
    .attr("x1", d => x(d)).attr("x2", d => x(d)).attr("y1", top).attr("y2", bot)
    .attr("stroke", "#a8a8a8").attr("stroke-width", 1.2).attr("stroke-dasharray", "6,4");

  const cid = "clip" + i;
  defs.append("clipPath").attr("id", cid).append("rect")
    .attr("x", x0).attr("y", top - 1).attr("width", x1 - x0).attr("height", panelH + 2);
  const line = d3.line().defined(d => d !== null).x(d => x(d[0])).y(d => y(d[1]))
    .curve(p.smooth ? d3.curveMonotoneX : d3.curveLinear);
  g.append("path").attr("d", line(p.d)).attr("fill", "none").attr("stroke", p.col)
    .attr("stroke-width", p.w || 2).attr("stroke-linejoin", "round")
    .attr("clip-path", `url(#${cid})`);

  g.append("line").attr("x1", x0).attr("x2", x1).attr("y1", top).attr("y2", top).attr("stroke", "#000").attr("stroke-width", 2.8);
  g.append("line").attr("x1", x0).attr("x2", x1 + 1.4).attr("y1", bot).attr("y2", bot).attr("stroke", "#000").attr("stroke-width", 2.8);
  g.append("line").attr("x1", x1).attr("x2", x1).attr("y1", top - 1.4).attr("y2", bot).attr("stroke", "#000").attr("stroke-width", 2.8);

  const yAxis = d3.axisLeft(y).tickValues(p.t).tickSize(7).tickPadding(3).tickFormat(d => String(d));
  const ya = g.append("g").attr("transform", `translate(${x0},0)`).call(yAxis);
  ya.select(".domain").attr("stroke", "#000").attr("stroke-width", 2).attr("d", `M0,${top - 1.4}V${bot + 1.4}`);
  ya.selectAll(".tick line").attr("stroke", "#000").attr("stroke-width", 1.6);
  ya.selectAll(".tick text").attr("font-size", 12.5).attr("fill", "#222")
    .attr("font-family", "'Liberation Sans', Arial, sans-serif");

  const xAxis = d3.axisBottom(x).tickValues(timeTicks).tickSize(9).tickPadding(8)
    .tickFormat(p.xl ? d => String(d) : () => "");
  const xa = g.append("g").attr("transform", `translate(0,${bot})`).call(xAxis);
  xa.select(".domain").remove();
  xa.selectAll(".tick line").attr("stroke", "#000").attr("stroke-width", 2.6);
  xa.selectAll(".tick text").attr("font-size", 12.5).attr("fill", "#222")
    .attr("font-family", "'Liberation Sans', Arial, sans-serif");

  const cy = (top + bot) / 2;
  p.lab.forEach((s, k) => {
    g.append("text").attr("transform", `translate(${ylabX[p.c][k]},${cy}) rotate(-90)`)
      .attr("text-anchor", "middle").attr("dominant-baseline", "central")
      .attr("font-size", 12).attr("font-weight", "bold").attr("fill", "#111").text(s);
  });

  if (p.time) {
    g.append("text").attr("x", (x0 + x1) / 2).attr("y", bot + 47)
      .attr("text-anchor", "middle").attr("font-size", 12).attr("font-weight", "bold")
      .attr("fill", "#111").text("Time [s]");
  }
});
</script>
</body></html>
